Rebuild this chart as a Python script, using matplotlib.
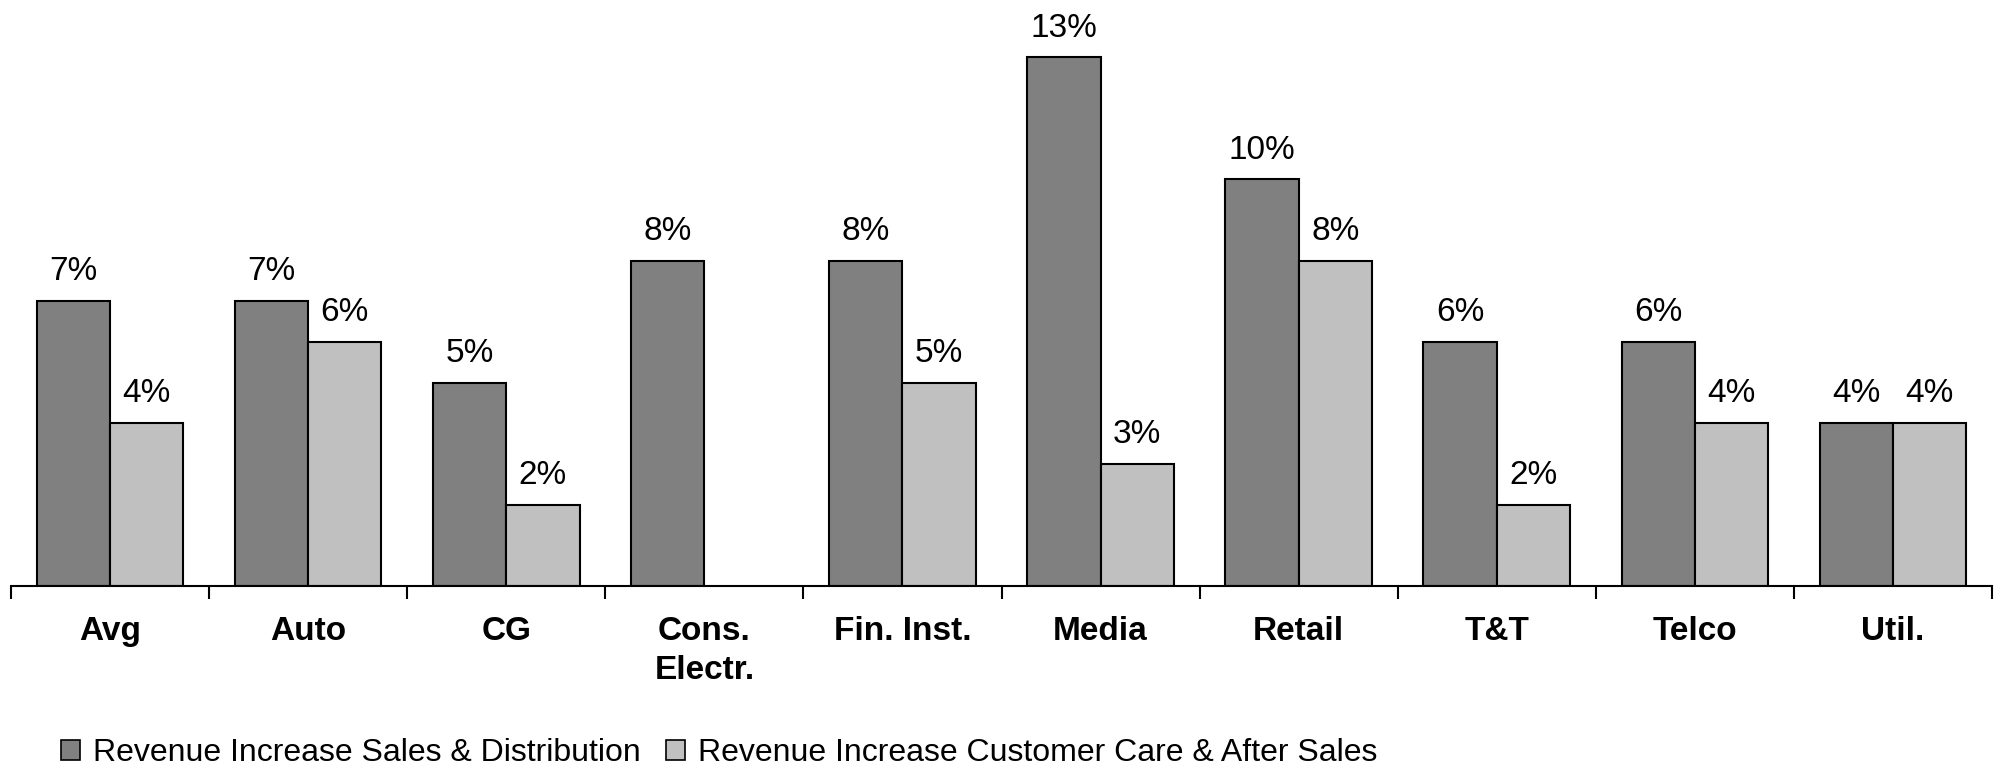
import matplotlib
matplotlib.use("Agg")
import matplotlib.pyplot as plt
import numpy as np
from matplotlib.patches import Patch

categories = ["Avg", "Auto", "CG", "Cons.\nElectr.", "Fin. Inst.", "Media",
              "Retail", "T&T", "Telco", "Util."]
sales_distribution = [7, 7, 5, 8, 8, 13, 10, 6, 6, 4]
customer_care = [4, 6, 2, None, 5, 3, 8, 2, 4, 4]
series_names = ["Revenue Increase Sales & Distribution",
                "Revenue Increase Customer Care & After Sales"]

font = ["Liberation Sans", "DejaVu Sans"]

fig = plt.figure(figsize=(20.01, 7.73), dpi=100)
ax = fig.add_axes([0.0055, 0.242, 0.99, 0.739])

x = np.arange(len(categories))
w = 0.37
dark, light = "#808080", "#C0C0C0"

for vals, off, col in [(sales_distribution, -w / 2, dark),
                       (customer_care, w / 2, light)]:
    for xi, v in zip(x, vals):
        if v is None:
            continue
        ax.bar(xi + off, v, width=w, color=col, edgecolor="black",
               linewidth=1.5, zorder=2)
        ax.annotate(f"{v}%", (xi + off, v), xytext=(0, 15),
                    textcoords="offset points", ha="center", va="baseline",
                    fontsize=24, family=font, annotation_clip=False)

ax.set_xlim(-0.5, len(categories) - 0.5)
ax.set_ylim(0, 14.05)

for s in ["top", "right", "left"]:
    ax.spines[s].set_visible(False)
ax.spines["bottom"].set_linewidth(1.5)
ax.spines["bottom"].set_zorder(3)
ax.set_yticks([])

ax.set_xticks(x)
ax.set_xticklabels(categories, fontsize=24, fontweight="bold", family=font,
                   linespacing=1.3)
ax.tick_params(axis="x", which="major", length=0, pad=22)
ax.set_xticks(np.arange(len(categories) + 1) - 0.5, minor=True)
ax.tick_params(axis="x", which="minor", length=9, width=1.5, direction="out")

handles = [Patch(facecolor=dark, edgecolor="black", linewidth=1.2),
           Patch(facecolor=light, edgecolor="black", linewidth=1.2)]
fig.legend(handles, series_names, loc="lower left",
           bbox_to_anchor=(0.024, -0.01), ncol=2, frameon=False,
           prop={"family": font, "size": 23},
           handlelength=0.6, handleheight=0.6, handletextpad=0.4,
           columnspacing=0.8, borderaxespad=0)

fig.savefig("out.png", dpi=100)
